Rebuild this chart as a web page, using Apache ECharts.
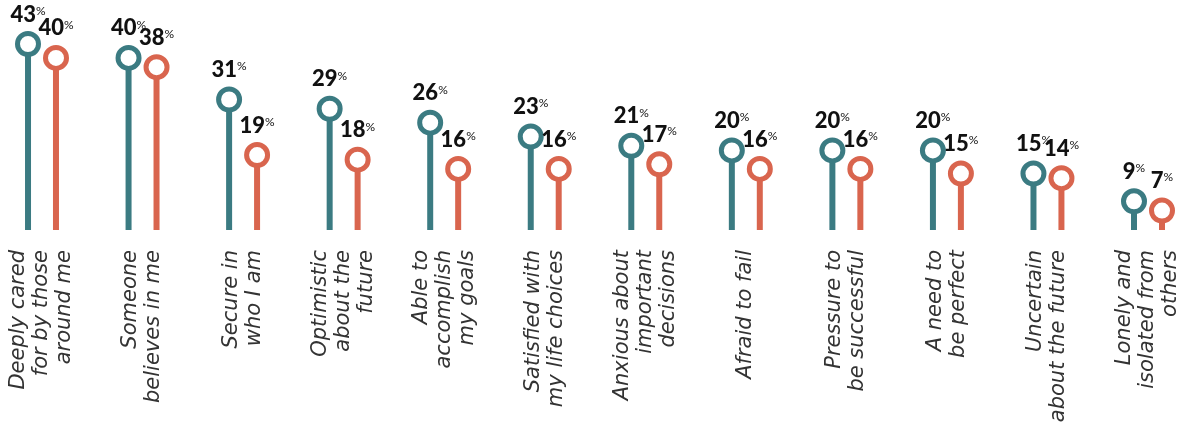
<!DOCTYPE html>
<html>
<head>
<meta charset="utf-8">
<script src="https://cdn.jsdelivr.net/npm/echarts@6/dist/echarts.min.js"></script>
<style>
  html, body { margin: 0; padding: 0; background: #fff; }
  #chart { width: 1187px; height: 431px; }
</style>
</head>
<body>
<div id="chart"></div>
<script>
// categories (multi-line labels are split with \n)
const categories = [
  'Deeply cared\nfor by those\naround me',
  'Someone\nbelieves in me',
  'Secure in\nwho I am',
  'Optimistic\nabout the\nfuture',
  'Able to\naccomplish\nmy goals',
  'Satisfied with\nmy life choices',
  'Anxious about\nimportant\ndecisions',
  'Afraid to fail',
  'Pressure to\nbe successful',
  'A need to\nbe perfect',
  'Uncertain\nabout the future',
  'Lonely and\nisolated from\nothers'
];
const tealValues = [43, 40, 31, 29, 26, 23, 21, 20, 20, 20, 15, 9];
const orangeValues = [40, 38, 19, 18, 16, 16, 17, 16, 16, 15, 14, 7];

const TEAL = '#3b7b82';
const ORANGE = '#d9654e';

const chart = echarts.init(document.getElementById('chart'));

// value label: big bold number + small raised %
const valueLabel = {
  show: true,
  position: 'top',
  distance: 7,
  formatter: '{v|{c}}{p|%}',
  rich: {
    v: { fontFamily: 'Lato', fontWeight: 900, fontSize: 22, color: '#111', lineHeight: 19 },
    p: { fontFamily: 'Lato', fontWeight: 400, fontSize: 12, color: '#111', verticalAlign: 'top', lineHeight: 19 }
  }
};

const stem = (data, color) => ({
  type: 'bar',
  data: data,
  barWidth: 6,
  barGap: '366%',
  clip: false,
  silent: true,
  itemStyle: { color: color },
  z: 1
});

const head = (data, color, offset) => ({
  type: 'scatter',
  data: data,
  symbol: 'circle',
  symbolSize: 21,
  symbolOffset: [offset, 0],
  clip: false,
  itemStyle: { color: '#fff', borderColor: color, borderWidth: 5, opacity: 1 },
  label: valueLabel,
  z: 3
});

const option = {
  animation: false,
  grid: { left: 42, right: 39, top: 44, bottom: 201, containLabel: false },
  xAxis: {
    type: 'category',
    data: categories,
    boundaryGap: false,
    axisLine: { show: false },
    axisTick: { show: false },
    axisLabel: {
      interval: 0,
      rotate: 90,
      margin: 20,
      fontFamily: 'DejaVu Sans',
      fontStyle: 'italic',
      fontWeight: 200,
      fontSize: 21,
      lineHeight: 23,
      color: '#333'
    }
  },
  yAxis: {
    type: 'value',
    min: 2.8,
    max: 43,
    startValue: 2.8,
    show: false,
    splitLine: { show: false }
  },
  series: [
    stem(tealValues, TEAL),
    stem(orangeValues, ORANGE),
    head(tealValues, TEAL, -14),
    head(orangeValues, ORANGE, 14)
  ]
};

chart.setOption(option);
</script>
</body>
</html>
